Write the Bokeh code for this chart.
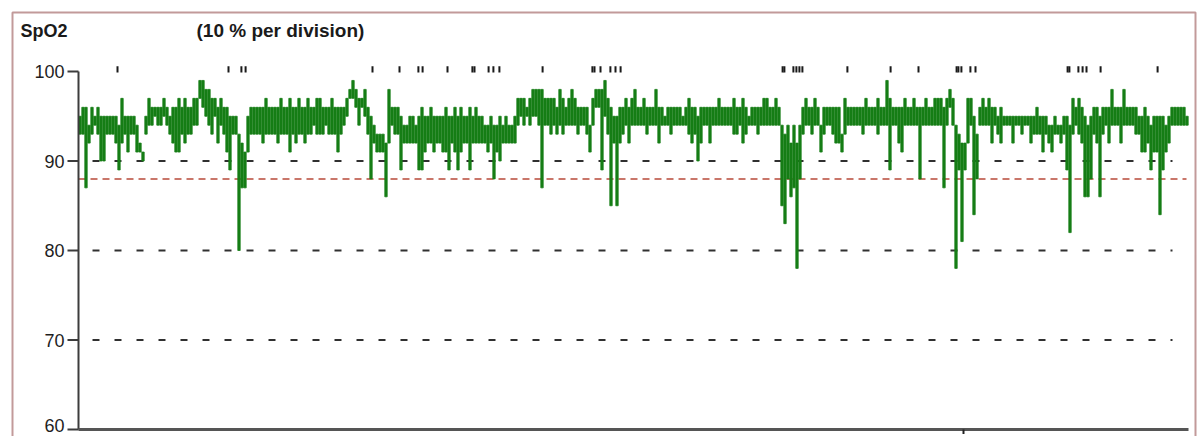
from bokeh.plotting import figure
from bokeh.models import Range1d
from bokeh.core.properties import value
from bokeh.embed import file_html
from bokeh.resources import INLINE

# SpO2 trend, highest and lowest reading in each epoch (%)
spo2_max = [
    95, 96, 96, 94, 96, 95, 96, 95, 95, 95,
    95, 95, 95, 94, 97, 95, 95, 95, 95, 94,
    92, 91, 95, 97, 96, 96, 96, 96, 97, 96,
    95, 96, 96, 97, 96, 97, 96, 96, 97, 97,
    99, 99, 98, 98, 97, 97, 96, 97, 96, 96,
    95, 95, 95, 93, 92, 91, 95, 96, 96, 96,
    96, 96, 97, 96, 96, 96, 96, 97, 96, 96,
    97, 96, 96, 97, 96, 96, 97, 96, 96, 97,
    97, 96, 96, 96, 97, 96, 96, 96, 96, 97,
    98, 99, 98, 97, 97, 98, 96, 95, 94, 93,
    93, 93, 92, 98, 96, 96, 96, 95, 94, 94,
    95, 95, 94, 95, 96, 95, 95, 96, 95, 95,
    95, 95, 96, 95, 95, 96, 95, 96, 95, 95,
    96, 95, 96, 95, 95, 94, 94, 95, 94, 94,
    95, 94, 95, 94, 94, 95, 97, 97, 97, 96,
    97, 98, 98, 98, 98, 97, 97, 97, 97, 96,
    98, 97, 96, 97, 98, 97, 96, 96, 96, 96,
    94, 97, 98, 98, 98, 99, 97, 96, 95, 95,
    96, 96, 97, 96, 97, 98, 96, 96, 97, 96,
    96, 96, 98, 96, 96, 95, 96, 96, 96, 96,
    96, 95, 96, 97, 96, 96, 95, 96, 96, 96,
    96, 96, 96, 97, 96, 96, 96, 96, 97, 96,
    96, 97, 96, 95, 96, 96, 96, 96, 97, 97,
    96, 96, 97, 96, 94, 93, 94, 92, 94, 92,
    94, 96, 97, 96, 96, 97, 96, 94, 96, 96,
    96, 96, 96, 96, 93, 97, 96, 96, 96, 96,
    96, 96, 97, 96, 96, 96, 97, 96, 96, 99,
    97, 96, 96, 96, 96, 97, 96, 96, 97, 96,
    96, 96, 97, 96, 96, 97, 97, 97, 96, 97,
    98, 97, 94, 93, 92, 92, 97, 97, 95, 93,
    96, 97, 96, 97, 96, 96, 95, 96, 95, 95,
    95, 95, 95, 95, 95, 95, 95, 95, 95, 96,
    95, 95, 95, 94, 94, 95, 94, 94, 95, 95,
    94, 97, 96, 97, 96, 95, 94, 95, 96, 96,
    95, 96, 96, 96, 98, 96, 96, 96, 98, 96,
    96, 96, 96, 95, 95, 96, 95, 94, 95, 95,
    95, 95, 94, 95, 96, 96, 96, 96, 96, 95,
]
spo2_min = [
    93, 93, 87, 92, 93, 94, 93, 90, 90, 93,
    93, 93, 92, 89, 92, 93, 91, 93, 93, 91,
    91, 90, 93, 94, 94, 95, 94, 94, 95, 94,
    93, 92, 91, 91, 93, 92, 93, 93, 94, 94,
    97, 96, 95, 94, 93, 95, 92, 94, 93, 91,
    89, 93, 93, 80, 87, 87, 91, 93, 93, 93,
    93, 92, 93, 93, 93, 93, 92, 93, 93, 93,
    91, 93, 92, 93, 93, 92, 93, 93, 94, 93,
    93, 93, 94, 93, 93, 93, 91, 93, 94, 95,
    97, 97, 96, 94, 96, 95, 93, 88, 92, 91,
    91, 91, 86, 92, 94, 93, 93, 89, 92, 92,
    92, 92, 92, 89, 89, 91, 92, 92, 91, 92,
    92, 91, 91, 89, 92, 91, 89, 91, 92, 92,
    89, 92, 92, 92, 92, 92, 91, 92, 88, 91,
    90, 92, 92, 92, 92, 92, 94, 95, 94, 95,
    94, 95, 95, 94, 87, 94, 94, 93, 94, 93,
    94, 93, 94, 94, 94, 94, 93, 94, 94, 93,
    91, 94, 96, 96, 89, 95, 93, 85, 92, 85,
    92, 93, 94, 92, 94, 94, 94, 94, 94, 93,
    94, 94, 94, 92, 94, 94, 94, 93, 94, 94,
    94, 94, 94, 93, 92, 93, 90, 92, 94, 94,
    92, 94, 94, 94, 94, 94, 94, 94, 93, 93,
    94, 92, 93, 94, 94, 94, 93, 94, 94, 94,
    94, 94, 94, 94, 85, 83, 88, 86, 87, 78,
    88, 93, 94, 94, 93, 94, 94, 91, 93, 94,
    94, 93, 92, 92, 91, 93, 94, 94, 94, 94,
    94, 93, 94, 94, 94, 94, 93, 94, 94, 94,
    89, 94, 94, 92, 91, 94, 94, 94, 94, 94,
    88, 94, 94, 94, 94, 94, 94, 94, 87, 94,
    96, 94, 78, 89, 81, 89, 92, 94, 84, 88,
    94, 94, 94, 94, 92, 94, 93, 92, 94, 94,
    94, 92, 94, 94, 93, 94, 94, 92, 93, 93,
    93, 91, 93, 92, 91, 93, 93, 92, 93, 89,
    82, 93, 94, 93, 92, 86, 86, 88, 93, 92,
    86, 93, 94, 92, 94, 94, 94, 92, 94, 94,
    94, 94, 93, 93, 91, 91, 92, 89, 91, 91,
    84, 89, 91, 92, 94, 94, 94, 94, 94, 94,
]
epoch_mid = [i + 0.5 for i in range(len(spo2_max))]

# event marks along the top (epoch positions)
event_marks = [
    13.0, 50.0, 54.3, 55.7, 98.0, 107.0, 113.3, 114.7, 123.0,
    131.3, 132.0, 136.7, 138.3, 140.3, 154.7,
    171.3, 172.0, 174.0, 177.3, 179.0, 180.7,
    234.7, 235.3, 238.3, 239.3, 240.3, 241.3,
    256.3, 270.7, 280.0, 292.7, 293.3, 294.3, 297.3, 299.0,
    329.7, 330.3, 333.3, 334.7, 336.0, 340.7, 359.7,
]
time_marks = [295.0]

y_ticks = [60, 70, 80, 90, 100]
grid_levels = [70, 80, 90]
alarm_level = 88
title_text = "SpO2"
scale_text = "(10 % per division)"

# page geometry: pixel <-> data helpers
W, H = 1198, 436
X0_PX, PX_PER_EPOCH = 78.0, 3.0
Y100_PX, PX_PER_PCT = 71.0, 8.95


def px2u(px):
    return (px - X0_PX) / PX_PER_EPOCH


def py2v(py):
    return 100.0 - (py - Y100_PX) / PX_PER_PCT


p = figure(width=W, height=H, output_backend="svg", toolbar_location=None,
           x_range=Range1d(px2u(0), px2u(W)), y_range=Range1d(py2v(H), py2v(0)),
           min_border=0, min_border_left=0, min_border_right=0,
           min_border_top=0, min_border_bottom=0)
p.xaxis.visible = False
p.yaxis.visible = False
p.xgrid.visible = False
p.ygrid.visible = False
p.outline_line_color = None
p.background_fill_color = "white"
p.border_fill_color = "white"

# panel border
p.line([px2u(12), px2u(12), px2u(1195), px2u(1195)],
       [py2v(H + 10), py2v(12), py2v(12), py2v(H + 10)],
       line_color="#c29a9a", line_width=2)

x_end = len(spo2_max)

# reference lines
for lvl in grid_levels:
    p.line([0, px2u(1172)], [lvl, lvl], line_color="#303030", line_width=2,
           line_dash="7 15", line_dash_offset=-14)
p.line([0, px2u(1186)], [alarm_level, alarm_level], line_color="#b84a3a",
       line_width=1.5, line_dash="7 5")

# SpO2 trace: min-max column for every epoch
p.vbar(x=epoch_mid, top=spo2_max, bottom=spo2_min, width=0.8,
       fill_color="#167d16", line_color="#167d16", line_width=0.8)

# axes drawn in place
p.line([0, 0], [y_ticks[0], y_ticks[-1]], line_color="#3c3c3c", line_width=2)
p.line([0, x_end], [y_ticks[0], y_ticks[0]], line_color="#555555", line_width=3)
p.segment(x0=[px2u(67)] * len(y_ticks), y0=y_ticks,
          x1=[0] * len(y_ticks), y1=y_ticks, line_color="#3c3c3c", line_width=2)
label_shift = [-4 if t == y_ticks[0] else 0 for t in y_ticks]
p.text(x=[px2u(64)] * len(y_ticks), y=y_ticks, text=[str(t) for t in y_ticks],
       y_offset=label_shift,
       text_font=value("Liberation Sans"), text_font_size="18px",
       text_color="#1e1e1e", text_align="right", text_baseline="middle")
p.segment(x0=time_marks, y0=[y_ticks[0]] * len(time_marks),
          x1=time_marks, y1=[y_ticks[0] - 0.5] * len(time_marks),
          line_color="#222222", line_width=2)

# event marks
p.segment(x0=event_marks, y0=[99.9] * len(event_marks),
          x1=event_marks, y1=[100.6] * len(event_marks),
          line_color="#1a1a1a", line_width=2)

# header texts
p.text(x=[px2u(20)], y=[py2v(30)], text=[title_text],
       text_font=value("Liberation Sans"), text_font_size="18px",
       text_font_style="bold", text_color="#1a1a1a",
       text_align="left", text_baseline="middle")
p.text(x=[px2u(196)], y=[py2v(30)], text=[scale_text],
       text_font=value("Liberation Sans"), text_font_size="19px",
       text_font_style="bold", text_color="#1a1a1a",
       text_align="left", text_baseline="middle")

open("out.html", "w").write(file_html(p, INLINE))
